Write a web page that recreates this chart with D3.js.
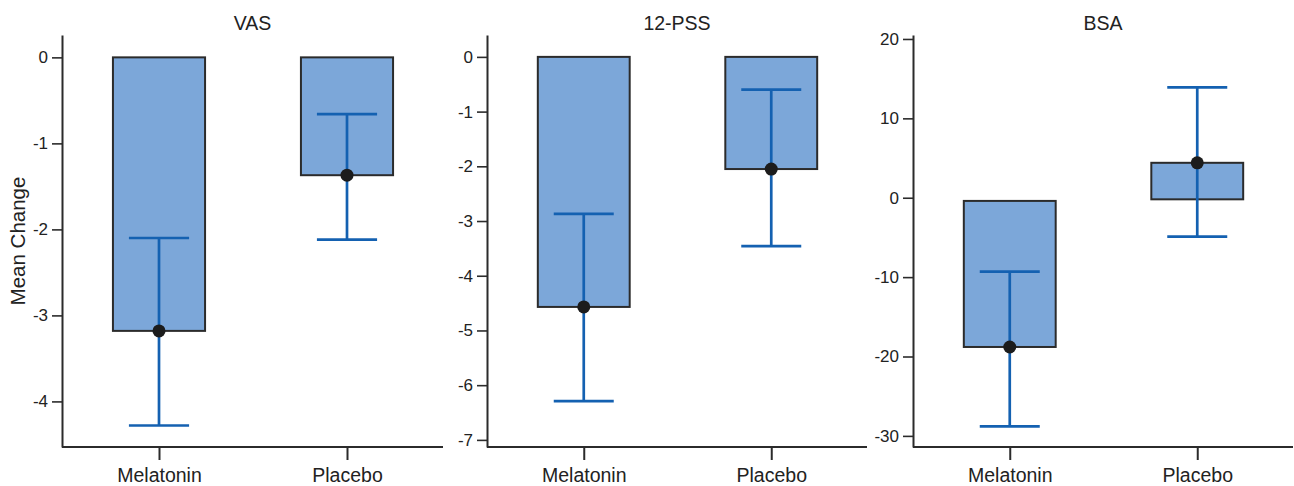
<!DOCTYPE html>
<html>
<head>
<meta charset="utf-8">
<script src="https://cdn.jsdelivr.net/npm/d3@7"></script>
<style>
  html, body { margin: 0; padding: 0; background: #fff; }
  svg { display: block; }
  text { font-family: "Liberation Sans", Arial, Helvetica, sans-serif; fill: #222; }
</style>
</head>
<body>
<svg id="chart" width="1294" height="486"></svg>
<script>
// ---- data ----
const categories = ["Melatonin", "Placebo"];
const panelTitles = ["VAS", "12-PSS", "BSA"];

const vasMean  = [-3.18, -1.37];
const vasLower = [-4.28, -2.12];
const vasUpper = [-2.10, -0.66];
const vasBase  = [0, 0];
const vasTicks = [0, -1, -2, -3, -4];
const vasDomain = [-4.53, 0.26];

const pssMean  = [-4.57, -2.05];
const pssLower = [-6.29, -3.46];
const pssUpper = [-2.87, -0.60];
const pssBase  = [0, 0];
const pssTicks = [0, -1, -2, -3, -4, -5, -6, -7];
const pssDomain = [-7.13, 0.40];

const bsaMean  = [-18.8, 4.4];
const bsaLower = [-28.8, -4.9];
const bsaUpper = [-9.3, 13.9];
const bsaBase  = [-0.4, -0.2];
const bsaTicks = [20, 10, 0, -10, -20, -30];
const bsaDomain = [-31.4, 20.5];

const yLabel = "Mean Change";

// ---- layout ----
const panelLeft = [62, 487, 913];
const panelWidth = [381, 380, 380];
const plotTop = 35, plotBottom = 447;

const panels = [
  { title: panelTitles[0], mean: vasMean, lower: vasLower, upper: vasUpper, base: vasBase, ticks: vasTicks, domain: vasDomain },
  { title: panelTitles[1], mean: pssMean, lower: pssLower, upper: pssUpper, base: pssBase, ticks: pssTicks, domain: pssDomain },
  { title: panelTitles[2], mean: bsaMean, lower: bsaLower, upper: bsaUpper, base: bsaBase, ticks: bsaTicks, domain: bsaDomain }
];

const svg = d3.select("#chart");
const axisColor = "#2b2b2b";
const barFill = "#7ca7d9";
const errColor = "#1461b1";
const fontFam = '"Liberation Sans", Arial, sans-serif';

panels.forEach((p, i) => {
  const W = panelWidth[i];
  const g = svg.append("g").attr("transform", `translate(${panelLeft[i]},0)`);

  const x = d3.scalePoint().domain(categories).range([3, W - 2]).padding(0.5);
  const y = d3.scaleLinear().domain(p.domain).range([plotBottom, plotTop]);
  const step = x.step();
  const barW = step * 0.49;
  const capW = step * 0.32;

  const rows = categories.map((c, k) => ({ c, mean: p.mean[k], lo: p.lower[k], hi: p.upper[k], base: p.base[k] }));

  // bars
  g.selectAll("rect.bar").data(rows).enter().append("rect")
    .attr("class", "bar")
    .attr("x", d => x(d.c) - barW / 2)
    .attr("width", barW)
    .attr("y", d => Math.min(y(d.base), y(d.mean)))
    .attr("height", d => Math.abs(y(d.mean) - y(d.base)))
    .attr("fill", barFill)
    .attr("stroke", axisColor)
    .attr("stroke-width", 2);

  // error bars
  const eb = g.selectAll("g.err").data(rows).enter().append("g").attr("class", "err")
    .attr("stroke", errColor).attr("stroke-width", 2.7);
  eb.append("line")
    .attr("x1", d => x(d.c)).attr("x2", d => x(d.c))
    .attr("y1", d => y(d.lo)).attr("y2", d => y(d.hi));
  eb.append("line")
    .attr("x1", d => x(d.c) - capW / 2).attr("x2", d => x(d.c) + capW / 2)
    .attr("y1", d => y(d.hi)).attr("y2", d => y(d.hi));
  eb.append("line")
    .attr("x1", d => x(d.c) - capW / 2).attr("x2", d => x(d.c) + capW / 2)
    .attr("y1", d => y(d.lo)).attr("y2", d => y(d.lo));

  // mean dots
  g.selectAll("circle.dot").data(rows).enter().append("circle")
    .attr("class", "dot")
    .attr("cx", d => x(d.c))
    .attr("cy", d => y(d.mean))
    .attr("r", 6.5)
    .attr("fill", "#1c1c1c");

  // y axis
  const ya = g.append("g").call(
    d3.axisLeft(y).tickValues(p.ticks).tickFormat(d => String(d))
      .tickSize(10).tickSizeOuter(0).tickPadding(4)
  );
  ya.select(".domain").attr("stroke", axisColor).attr("stroke-width", 2);
  ya.selectAll(".tick line").attr("stroke", axisColor).attr("stroke-width", 1.6);
  ya.selectAll(".tick text").attr("font-size", 17).attr("fill", "#222")
    .attr("font-family", fontFam);

  // x axis
  const xa = g.append("g").attr("transform", `translate(0,${plotBottom})`).call(
    d3.axisBottom(x).tickSize(13).tickSizeOuter(0).tickPadding(8)
  );
  xa.select(".domain").remove();
  xa.insert("line", ":first-child")
    .attr("x1", 0).attr("x2", W).attr("y1", 0).attr("y2", 0)
    .attr("stroke", axisColor).attr("stroke-width", 2);
  xa.selectAll(".tick line").attr("stroke", axisColor).attr("stroke-width", 2);
  xa.selectAll(".tick text").attr("font-size", 19.5).attr("fill", "#222")
    .attr("font-family", fontFam);

  // title
  g.append("text")
    .attr("x", W / 2).attr("y", 30)
    .attr("text-anchor", "middle")
    .attr("font-size", 19.5)
    .text(p.title);

  if (i === 0) {
    g.append("text")
      .attr("transform", `translate(${25 - panelLeft[0]},${(plotTop + plotBottom) / 2}) rotate(-90)`)
      .attr("text-anchor", "middle")
      .attr("font-size", 20.5)
      .text(yLabel);
  }
});
</script>
</body>
</html>
